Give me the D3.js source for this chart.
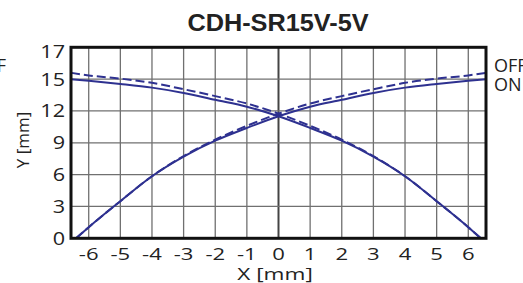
<!DOCTYPE html>
<html>
<head>
<meta charset="utf-8">
<script src="https://cdn.jsdelivr.net/npm/d3@7"></script>
<style>
  body { margin: 0; background: #fff; }
  svg { display: block; }
  text { font-family: "Open Sans", "Noto Sans", sans-serif; fill: #222; }
</style>
</head>
<body>
<svg width="523" height="283"></svg>
<script>
// values
var title = "CDH-SR15V-5V";
var xTicks = [-6, -5, -4, -3, -2, -1, 0, 1, 2, 3, 4, 5, 6];
// the top label says 17 but sits where 18 would be
var yTicks = [0, 3, 6, 9, 12, 15, 18];
var yTickLabels = ["0", "3", "6", "9", "12", "15", "17"];
var legend = ["OFF", "ON"];

var onRiseX  = [-6.4, -6, -5, -4, -3, -2, -1, 0, 1, 2, 3, 4, 5, 6, 6.56];
var onRiseY  = [0, 1.05, 3.5, 5.85, 7.7, 9.2, 10.4, 11.5, 12.4, 13.05, 13.7, 14.2, 14.55, 14.85, 15.0];
var offRiseX = [-6.4, -6, -5, -4, -3, -2, -1, 0, 1, 2, 3, 4, 5, 6, 6.56];
var offRiseY = [0, 1.05, 3.5, 5.85, 7.75, 9.3, 10.6, 11.75, 12.7, 13.4, 14.05, 14.65, 15.05, 15.35, 15.6];
// the falling curves are the mirror of the rising ones
var onFallX  = onRiseX.map(function(d) { return -d; });
var offFallX = offRiseX.map(function(d) { return -d; });

var svg = d3.select("svg");
var pLeft = 71, pRight = 486, pTop = 47.3, pBottom = 238.3;

var x = d3.scaleLinear().domain([-6.56, 6.56]).range([pLeft, pRight]);
var y = d3.scaleLinear().domain([0, 18]).range([pBottom, pTop]);

// the lettering in the picture is stretched sideways
function label(sel, px, py, sx) {
  return sel.append("text")
    .attr("transform", "translate(" + px + "," + py + ") scale(" + sx + ",1)");
}

// grid
var grid = svg.append("g");
grid.selectAll("line.v")
  .data(xTicks)
  .enter().append("line")
    .attr("x1", function(d) { return x(d); })
    .attr("x2", function(d) { return x(d); })
    .attr("y1", pTop).attr("y2", pBottom)
    .attr("stroke", function(d) { return d == 0 ? "#444" : "#707070"; })
    .attr("stroke-width", function(d) { return d == 0 ? 2 : 1.3; });
grid.selectAll("line.h")
  .data(yTicks.slice(1, -1))
  .enter().append("line")
    .attr("y1", function(d) { return y(d); })
    .attr("y2", function(d) { return y(d); })
    .attr("x1", pLeft).attr("x2", pRight)
    .attr("stroke", "#707070")
    .attr("stroke-width", 1.3);

// curves
var line = d3.line()
  .x(function(d) { return x(d[0]); })
  .y(function(d) { return y(d[1]); })
  .curve(d3.curveMonotoneX);

function pairs(xs, ys) {
  return xs.map(function(v, i) { return [v, ys[i]]; })
    .sort(function(a, b) { return a[0] - b[0]; });
}

var series = [
  { pts: pairs(onRiseX, onRiseY), dash: null },
  { pts: pairs(onFallX, onRiseY), dash: null },
  { pts: pairs(offRiseX, offRiseY), dash: "9,4" },
  { pts: pairs(offFallX, offRiseY), dash: "9,4" }
];

svg.append("g").selectAll("path")
  .data(series)
  .enter().append("path")
    .attr("d", function(d) { return line(d.pts); })
    .attr("fill", "none")
    .attr("stroke", "#2e3190")
    .attr("stroke-width", 2)
    .attr("stroke-dasharray", function(d) { return d.dash; });

// frame
svg.append("rect")
  .attr("x", pLeft).attr("y", pTop)
  .attr("width", pRight - pLeft).attr("height", pBottom - pTop)
  .attr("fill", "none")
  .attr("stroke", "#111")
  .attr("stroke-width", 3);

// tick labels
var gx = svg.append("g");
xTicks.forEach(function(d) {
  label(gx, x(d), 260, 1.3)
    .attr("text-anchor", "middle")
    .style("font-size", "17px")
    .text(d);
});

var gy = svg.append("g");
yTicks.forEach(function(d, i) {
  label(gy, 65, Math.max(y(d) + 6.5, 58), 1.2)
    .attr("text-anchor", "end")
    .style("font-size", "18px")
    .text(yTickLabels[i]);
});

// titles
label(svg, 278, 31, 1.1)
  .attr("text-anchor", "middle")
  .style("font-family", "'Liberation Sans', Arial, sans-serif")
  .style("font-weight", "bold")
  .style("font-size", "23px")
  .text(title);

label(svg, 275, 280, 1.33)
  .attr("text-anchor", "middle")
  .style("font-size", "17px")
  .text("X [mm]");

svg.append("text")
  .attr("transform", "translate(28.5,140) rotate(-90)")
  .attr("text-anchor", "middle")
  .style("font-size", "17px")
  .text("Y [mm]");

// legend, plus the clipped one of the neighbouring chart at the left edge
legend.forEach(function(t, i) {
  label(svg, 494, 72 + i * 19, 1).style("font-size", "18px").text(t);
  label(svg, i ? 1 : 6, 72 + i * 19, 1)
    .attr("text-anchor", "end")
    .style("font-size", "18px")
    .style("fill", i ? "#bbb" : "#222")
    .text(t);
});
</script>
</body>
</html>
